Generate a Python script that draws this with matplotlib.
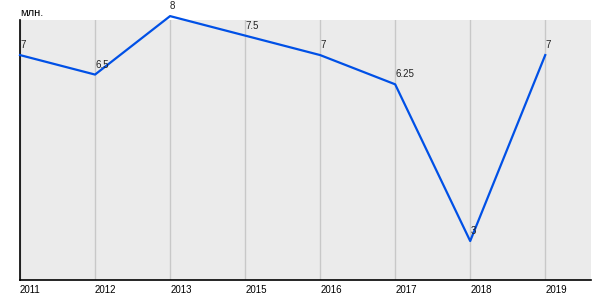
import matplotlib
matplotlib.use('Agg')
import matplotlib.pyplot as plt

years = ['2011', '2012', '2013', '2015', '2016', '2017', '2018', '2019']
values = [7, 6.5, 8, 7.5, 7, 6.25, 2.23, 7]
point_labels = ['7', '6.5', '8', '7.5', '7', '6.25', '3', '7']

plt.rcParams['font.family'] = ['Liberation Sans', 'DejaVu Sans']

fig = plt.figure(figsize=(6, 3), dpi=100)
ax = fig.add_axes([20/600, 20/300, 571/600, 260/300])
ax.set_facecolor('#ebebeb')

x = list(range(len(years)))
ax.plot(x, values, color='#0050e6', linewidth=1.6, clip_on=False, zorder=3)

for xi, v, lab in zip(x, values, point_labels):
    ax.annotate(lab, (xi, v), xytext=(0, 3.5), textcoords='offset points',
                ha='left', va='bottom', fontsize=7, color='#222222',
                zorder=4, annotation_clip=False)

ax.set_xlim(0, 7.61)
ax.set_ylim(1.23, 7.9)
ax.set_xticks(x)
ax.set_xticklabels(years, ha='left', fontsize=7)
ax.tick_params(axis='x', length=0, pad=3.5)
ax.set_yticks([])
ax.grid(axis='x', color='#c8c8c8', linewidth=1)
ax.set_axisbelow(True)

for s in ['top', 'right']:
    ax.spines[s].set_visible(False)
ax.spines['left'].set_color('black')
ax.spines['bottom'].set_color('black')
ax.spines['left'].set_linewidth(1.2)
ax.spines['bottom'].set_linewidth(1.2)

fig.text(20/600, 1 - 13/300, 'млн.', ha='left', va='center', fontsize=8)

fig.savefig('out.png', dpi=100)
